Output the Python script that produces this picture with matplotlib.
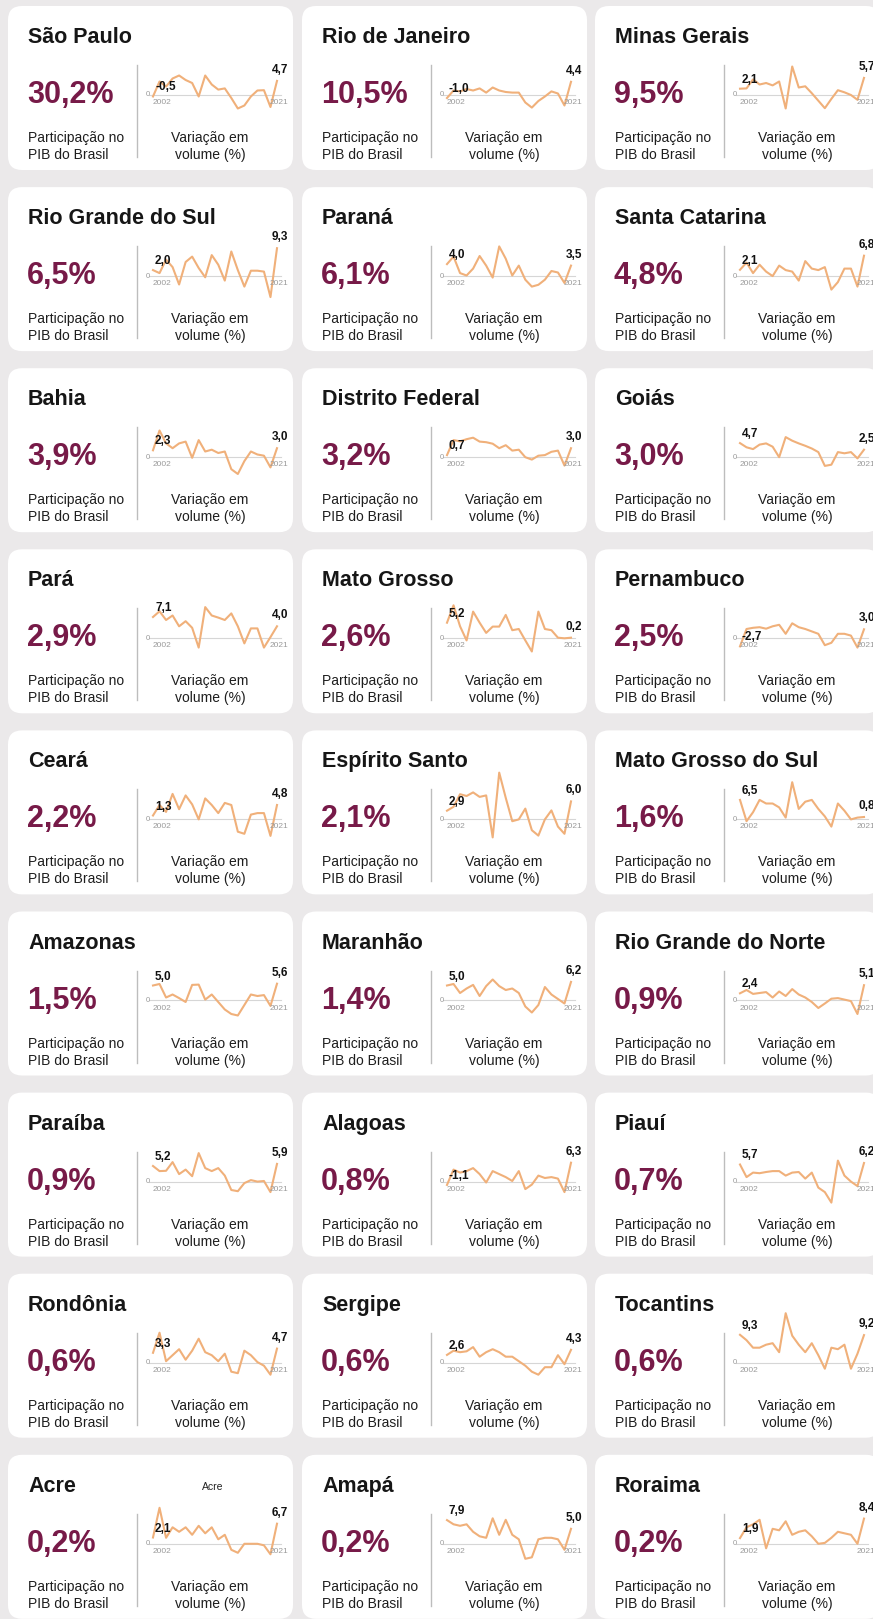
import numpy as np
import matplotlib
matplotlib.use('Agg')
import matplotlib.pyplot as plt
from matplotlib.patches import FancyBboxPatch

plt.rcParams['font.family'] = ['Liberation Sans', 'DejaVu Sans']

# Data (growth in % per year 2002..2021).

years = np.arange(2002, 2022)

states = ['São Paulo', 'Rio de Janeiro', 'Minas Gerais',
          'Rio Grande do Sul', 'Paraná', 'Santa Catarina',
          'Bahia', 'Distrito Federal', 'Goiás',
          'Pará', 'Mato Grosso', 'Pernambuco',
          'Ceará', 'Espírito Santo', 'Mato Grosso do Sul',
          'Amazonas', 'Maranhão', 'Rio Grande do Norte',
          'Paraíba', 'Alagoas', 'Piauí',
          'Rondônia', 'Sergipe', 'Tocantins',
          'Acre', 'Amapá', 'Roraima']

shares = [30.2, 10.5, 9.5, 6.5, 6.1, 4.8, 3.9, 3.2, 3.0, 2.9, 2.6, 2.5, 2.2, 2.1,
          1.6, 1.5, 1.4, 0.9, 0.9, 0.8, 0.7, 0.6, 0.6, 0.6, 0.2, 0.2, 0.2]

sp = [-0.5, 4.5, 2.8, 5.5, 6.5, 5.0, 4.0, -0.5, 6.5, 3.5, 1.8, 2.2, -1.0, -4.5, -3.5, -0.5, 1.5, 1.6, -4.0, 4.7]
rj = [-1.0, 1.5, 1.2, 2.0, 1.5, 2.2, 0.8, 2.5, 1.5, 1.0, 0.8, 0.8, -2.5, -4.2, -2.0, -0.5, 1.2, 0.5, -3.5, 4.4]
mg = [2.1, 2.2, 5.2, 3.5, 4.0, 3.2, 4.5, -4.5, 9.5, 2.5, 2.9, 0.6, -1.9, -4.4, -1.3, 1.6, 0.9, 0.0, -1.6, 5.7]
rs = [2.0, 1.0, 5.5, 3.0, -2.8, 4.7, 6.5, 2.7, -0.4, 7.0, 3.8, -1.5, 8.2, 2.0, -3.5, 1.8, 1.8, 1.5, -7.0, 9.3]
pr = [4.0, 6.5, 1.0, 0.2, 2.5, 6.7, 3.5, -0.5, 9.9, 5.8, 0.2, 3.5, -1.2, -3.5, -2.9, -1.2, 1.7, 1.2, -2.3, 3.5]
sc = [2.1, 4.5, 1.0, 3.8, 1.5, 0.0, 3.5, 2.0, 1.5, -1.5, 5.0, 2.5, 2.0, 3.0, -4.5, -2.0, 2.5, 2.5, -3.5, 6.8]
ba = [2.3, 8.9, 4.6, 3.0, 4.6, 5.2, -0.2, 5.7, 1.9, 2.5, 1.4, 1.9, -4.0, -5.6, -1.3, 1.9, 0.9, 0.5, -3.4, 3.0]
df = [0.7, 5.7, 5.3, 6.0, 6.5, 5.2, 5.0, 4.5, 3.0, 4.0, 2.2, 2.5, 0.0, -0.8, 0.5, 0.7, 1.8, 2.2, -2.8, 3.0]
go = [4.7, 3.3, 2.7, 4.2, 4.6, 3.5, 0.0, 6.7, 5.5, 4.6, 3.8, 2.9, 1.7, -2.9, -2.5, 1.7, 1.3, 1.7, -0.4, 2.5]
pa = [7.1, 9.0, 6.1, 7.6, 4.0, 5.7, 3.5, -3.1, 10.4, 7.6, 6.9, 6.1, 8.3, 4.0, -1.7, 3.3, 3.3, -3.1, 0.4, 4.0]
mt = [5.2, 11.0, 4.0, -0.7, 8.9, 5.2, 1.8, 3.9, 3.9, 7.8, 2.7, 3.1, -0.7, -4.4, 8.9, 3.1, 2.7, 0.2, 0.0, 0.2]
pe = [-2.7, 3.1, 3.5, 3.7, 3.2, 4.0, 4.5, 1.5, 5.0, 3.7, 3.1, 2.3, 1.5, -2.3, -1.5, 1.5, 1.5, 0.9, -3.1, 3.0]
ce = [1.3, 4.8, 2.5, 8.5, 3.4, 8.0, 5.0, 0.0, 7.0, 4.8, 2.1, 5.5, 4.8, -4.1, -4.8, 1.6, 2.1, 2.1, -5.5, 4.8]
es = [2.9, 4.2, 8.4, 7.8, 9.0, 7.5, 8.0, -6.0, 15.6, 7.2, -0.6, 0.0, 3.6, -3.6, -5.4, 0.0, 3.0, -2.4, -4.8, 6.0]
ms = [6.5, -0.6, 2.4, 6.5, 5.3, 5.3, 4.0, 0.6, 12.4, 3.5, 5.9, 6.5, 3.5, 1.0, -2.4, 5.3, 2.9, 0.0, 0.6, 0.8]
am = [5.0, 5.5, 1.0, 2.0, 0.8, -0.5, 5.2, 5.3, 0.3, 2.0, -0.5, -3.0, -4.5, -5.0, -1.5, 2.0, 1.5, 1.8, -1.8, 5.6]
ma = [5.0, 5.5, 2.5, 4.0, 5.2, 1.5, 4.8, 7.0, 4.8, 3.5, 4.0, 2.5, -2.0, -4.0, -1.5, 4.5, 2.0, 0.5, -1.0, 6.2]
rn = [2.4, 3.5, 2.2, 2.5, 2.8, 1.0, 3.0, 1.5, 3.8, 2.0, 1.0, -0.5, -2.5, -1.0, 0.6, 0.8, 0.3, -0.2, -4.5, 5.1]
pb = [5.2, 3.5, 3.6, 6.5, 2.5, 4.0, 1.8, 9.5, 4.5, 3.5, 4.5, 2.0, -2.8, -3.2, -0.5, 0.5, 0.0, 0.2, -3.5, 5.9]
al = [-1.1, 4.0, 3.0, 3.5, 4.5, 2.5, -0.3, 3.5, 2.5, 1.5, 0.2, 3.5, -2.5, -1.0, 2.0, 1.2, 1.5, 1.0, -3.5, 6.3]
pi = [5.7, 1.5, 3.0, 2.8, 3.2, 3.5, 3.5, 2.0, 3.0, 3.2, 1.0, 3.0, -2.0, -3.5, -7.0, 7.0, 2.0, 0.0, -1.5, 6.2]
ro = [3.3, 10.0, 0.5, 2.5, 4.5, 1.0, 4.0, 8.0, 3.5, 2.5, 0.5, 3.0, -3.0, -3.5, 4.0, 2.5, 0.2, -1.0, -4.0, 4.7]
se = [2.6, 4.0, 3.5, 3.8, 5.2, 2.0, 3.5, 4.5, 3.5, 2.0, 2.0, 0.5, -1.0, -3.0, -4.0, -1.5, -1.5, 2.5, -0.5, 4.3]
to = [9.3, 7.5, 5.0, 5.0, 6.0, 6.5, 3.5, 16.5, 9.0, 6.0, 3.5, 6.5, 2.5, -2.0, 5.0, 4.5, 6.0, -2.0, 3.0, 9.2]
ac = [2.1, 12.0, 2.0, 5.5, 4.0, 5.5, 3.0, 6.0, 3.5, 5.5, 1.5, 3.0, -2.0, -3.0, 0.0, 0.0, 0.0, -0.5, -3.5, 6.7]
ap = [7.9, 6.5, 6.0, 6.5, 4.0, 2.5, 2.0, 8.5, 3.0, 8.0, 3.0, 1.5, -5.0, -4.5, 1.5, 2.0, 2.0, 1.5, -2.0, 5.0]
rr = [1.9, 5.5, 6.5, 8.0, -1.5, 5.0, 4.5, 7.5, 3.0, 4.0, 4.5, 2.5, 0.0, 0.3, 2.0, 4.0, 3.5, 3.0, 0.0, 8.4]

series = [sp, rj, mg, rs, pr, sc, ba, df, go, pa, mt, pe, ce, es, ms,
          am, ma, rn, pb, al, pi, ro, se, to, ac, ap, rr]


def br(v):  # Brazilian decimal comma.
    return f"{v:.1f}".replace('.', ',')


# Canvas in pixel coordinates.

W, H = 873, 1619
fig = plt.figure(figsize=(W / 100, H / 100), dpi=100)
fig.patch.set_facecolor('#ebe9ea')
bg = fig.add_axes([0, 0, 1, 1])
bg.set_xlim(0, W)
bg.set_ylim(H, 0)
bg.axis('off')

colLeft = [8, 302, 595]
rowTop0, rowPitch = 6, 181.1
cardW, cardH = 285, 164

purple = '#771a48'
orange = '#f0b07a'
grey = '#9a9a9a'

for k, name in enumerate(states):

    cl = colLeft[k % 3]
    ct = rowTop0 + rowPitch * (k // 3)

    bg.add_patch(FancyBboxPatch((cl, ct), cardW, cardH, boxstyle='round,pad=0,rounding_size=14',
                                facecolor='white', edgecolor='none'))

    bg.text(cl + 20, ct + 37, name, fontsize=15.5, fontweight='bold', color='#161616', va='baseline')
    bg.text(cl + 19, ct + 97, br(shares[k]) + '%', fontsize=22, fontweight='bold', color=purple,
            va='baseline')
    bg.text(cl + 20, ct + 136, 'Participação no', fontsize=10, color='#1e1e1e', va='baseline')
    bg.text(cl + 20, ct + 153, 'PIB do Brasil', fontsize=10, color='#1e1e1e', va='baseline')
    bg.text(cl + 202, ct + 136, 'Variação em', fontsize=10, color='#1e1e1e', va='baseline', ha='center')
    bg.text(cl + 202, ct + 153, 'volume (%)', fontsize=10, color='#1e1e1e', va='baseline', ha='center')
    bg.plot([cl + 129, cl + 129], [ct + 59, ct + 151], color='#bdbdbd', lw=1)

    if name == 'Acre':  # Stray label left in the original graphic.
        bg.text(cl + 205, ct + 32, 'Acre', fontsize=7.5, color='#222222', ha='center', va='center')

    # Sparkline: zero sits 89 px below the card top, 3 px per percentage point.
    ax = fig.add_axes([(cl + 145) / W, 1 - (ct + 135) / H, 124 / W, 115 / H])
    ax.set_xlim(years[0], years[-1])
    ax.set_ylim(-46 / 3, 69 / 3)
    ax.axis('off')
    ax.patch.set_alpha(0)

    v = series[k]
    ax.axhline(0, xmin=-0.03, xmax=1.03, color='#d6d6d6', lw=0.8, clip_on=False)
    ax.plot(years, v, color=orange, lw=1.5, clip_on=False)

    ax.annotate('0', (years[0], 0), xytext=(-3, 0), textcoords='offset pixels',
                ha='right', va='center', fontsize=5.5, color=grey, annotation_clip=False)
    ax.annotate(str(years[0]), (years[0], 0), xytext=(0, -4), textcoords='offset pixels',
                ha='left', va='top', fontsize=6, color=grey, annotation_clip=False)
    ax.annotate(str(years[-1]), (years[-1], 0), xytext=(2, -4), textcoords='offset pixels',
                ha='center', va='top', fontsize=6, color=grey, annotation_clip=False)

    ax.annotate(br(v[0]), (years[0], v[0]), xytext=(2, 3), textcoords='offset pixels',
                ha='left', va='bottom', fontsize=8.5, fontweight='bold', color='#111111',
                annotation_clip=False)
    ax.annotate(br(v[-1]), (years[-1], v[-1]), xytext=(3, 5), textcoords='offset pixels',
                ha='center', va='bottom', fontsize=8.5, fontweight='bold', color='#111111',
                annotation_clip=False)

plt.savefig('out.png', dpi=100, facecolor=fig.get_facecolor())
plt.close()
